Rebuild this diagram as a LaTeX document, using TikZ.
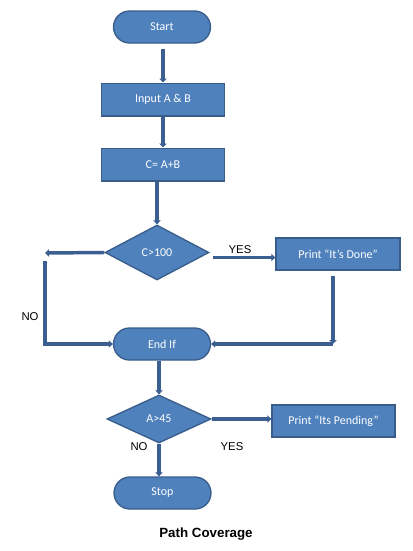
\documentclass[tikz,border=0pt]{standalone}
\usepackage{fontspec}
\setmainfont{Carlito}
\newfontfamily\arialfont{Liberation Sans}
\usetikzlibrary{arrows.meta,shapes.geometric,calc}
\definecolor{BoxBlue}{HTML}{4F81BD}
\definecolor{EdgeBlue}{HTML}{385D8A}
\definecolor{LinkBlue}{HTML}{3C5F91}

\begin{document}
\begin{tikzpicture}[x=0.75pt,y=-0.75pt,
  termbox/.style={draw=EdgeBlue,line width=1pt,fill=BoxBlue,text=white,rounded corners=12pt,
    minimum width=72.75pt,minimum height=24pt,font=\fontsize{9}{11}\selectfont},
  procbox/.style={draw=EdgeBlue,line width=1pt,fill=BoxBlue,text=white,
    minimum width=92.25pt,minimum height=24.5pt,font=\fontsize{9}{11}\selectfont},
  decbox/.style={diamond,draw=EdgeBlue,line width=1pt,fill=BoxBlue,text=white,inner sep=0pt,
    minimum width=78pt,font=\fontsize{9}{11}\selectfont},
  link/.style={-{Triangle[length=3pt,width=5.5pt]},line width=2.6pt,draw=LinkBlue},
  lbl/.style={font=\arialfont\fontsize{8.5}{10}\selectfont}
]
\useasboundingbox (0,0) rectangle (413,551);
\node[termbox] (start) at (162,27) {Start};
\node[procbox] (input) at (163,99.5) {Input A \& B};
\node[procbox] (calc) at (163,164.5) {C= A+B};
\node[decbox,minimum height=41.25pt] (cond1) at (157,252.5) {C>100};
\node[procbox,minimum width=93pt,minimum height=24pt] (done) at (338,254) {Print “It’s Done”};
\node[termbox] (endif) at (162,344) {End If};
\node[decbox,minimum height=36pt] (cond2) at (159,419) {A>45};
\node[procbox,minimum width=92.25pt,minimum height=24pt] (pending) at (333.5,421) {Print “Its Pending”};
\node[termbox] (stop) at (162.5,493) {Stop};
\coordinate (noTop) at (45,253);
\coordinate (yesA) at ($(cond1.east)+(3,5)$);
\coordinate (doneC) at (333,344);
\node[lbl] (no1) at (30,317) {NO};
\node[lbl] (yes1) at (240,250) {YES};
\node[lbl] (no2) at (139,447) {NO};
\node[lbl] (yes2) at (232,447) {YES};
\node[font=\arialfont\bfseries\fontsize{10}{12}\selectfont] (title) at (206,534) {Path Coverage};
% main column
\draw[link,shorten <=4pt] (start.south -| input.north) -- (input.north);
\draw[link] (input) -- (calc);
\draw[link] (calc.south -| cond1.north) -- (cond1.north);
% first decision
\draw[link] (cond1.west) -- (noTop);
\draw[link] ($(noTop)+(0,8)$) |- (endif.west);
\draw[link] (yesA) -- (yesA -| done.west);
\draw[link,shorten <=4pt] (done.south -| doneC) -- (doneC);
\draw[link] (doneC) -- (endif.east);
% second decision
\draw[link] (endif.south -| cond2.north) -- (cond2.north);
\draw[link] (cond2.east) -- (cond2.east -| pending.west);
\draw[link] (cond2.south) -- (cond2.south |- stop.north);
\end{tikzpicture}
\end{document}
